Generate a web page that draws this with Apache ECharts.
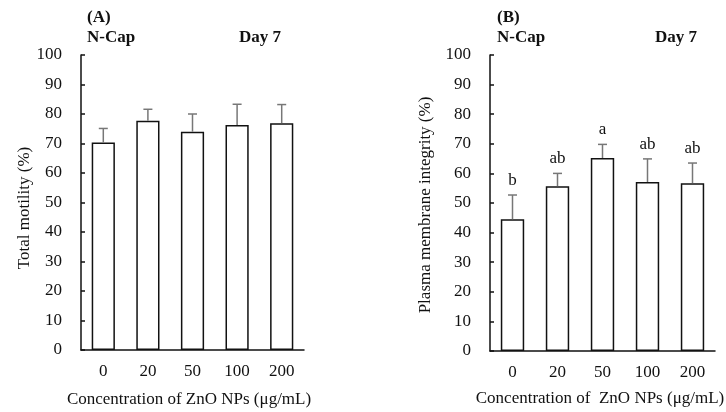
<!DOCTYPE html>
<html><head><meta charset="utf-8">
<script src="https://cdn.jsdelivr.net/npm/echarts@6/dist/echarts.min.js"></script>
<style>html,body{margin:0;padding:0;background:#fff}#c{width:726px;height:412px}</style>
</head><body><div id="c"></div>
<script>
var categories = ['0', '20', '50', '100', '200'];
var motilityMean = [70.3, 77.7, 74.0, 76.3, 76.9];
var motilitySD = [4.8, 3.9, 6.0, 7.0, 6.3];
var integrityMean = [44.5, 55.7, 65.2, 57.1, 56.7];
var integritySD = [8.2, 4.3, 4.6, 7.8, 6.8];
var integrityLetters = ['b', 'ab', 'a', 'ab', 'ab'];

var FONT = '"Liberation Serif", "Times New Roman", serif';
var chart = echarts.init(document.getElementById('c'));

function errSeries(idx, means, sds, letters) {
  var data = means.map(function (m, i) { return [i, m, sds[i]]; });
  return {
    type: 'custom', xAxisIndex: idx, yAxisIndex: idx, z: 5,
    data: data,
    renderItem: function (params, api) {
      var x = api.value(0), m = api.value(1), sd = api.value(2);
      var lab = letters ? letters[params.dataIndex] : '';
      var p0 = api.coord([x, m]);
      var p1 = api.coord([x, m + sd]);
      var st = { stroke: '#777', lineWidth: 1.5 };
      var children = [
        { type: 'line', shape: { x1: p0[0], y1: p0[1], x2: p1[0], y2: p1[1] }, style: st },
        { type: 'line', shape: { x1: p1[0] - 4.5, y1: p1[1], x2: p1[0] + 4.5, y2: p1[1] }, style: st }
      ];
      if (lab) {
        children.push({ type: 'text', x: p1[0], y: p1[1] - 6,
          style: { text: lab, font: '17px ' + FONT, fill: '#111', align: 'center', verticalAlign: 'bottom' } });
      }
      return { type: 'group', children: children };
    }
  };
}

function xAx(idx) {
  return {
    type: 'category', gridIndex: idx, data: categories,
    axisLine: { lineStyle: { color: '#111', width: 1.5 } },
    axisTick: { inside: true, length: 4, lineStyle: { color: '#111', width: 1.5 } },
    axisLabel: { fontFamily: FONT, fontSize: 17, color: '#111', margin: 13 },
    splitLine: { show: false }
  };
}
function yAx(idx) {
  return {
    type: 'value', gridIndex: idx, min: 0, max: 100, interval: 10,
    axisLine: { show: true, lineStyle: { color: '#111', width: 1.5 } },
    axisTick: { show: true, inside: true, length: 4, lineStyle: { color: '#111', width: 1.5 } },
    axisLabel: { fontFamily: FONT, fontSize: 17, color: '#111', margin: 19 },
    splitLine: { show: false }
  };
}
function txt(t, x, y, opt) {
  opt = opt || {};
  return { type: 'text', x: x, y: y, rotation: opt.rot || 0,
    style: { text: t, font: (opt.bold ? 'bold ' : '') + '17px ' + FONT, fill: '#111',
      align: opt.align || 'left', verticalAlign: 'middle' } };
}

chart.setOption({
  animation: false,
  grid: [
    { left: 81, right: 422, top: 55, bottom: 62 },
    { left: 490, right: 11, top: 55, bottom: 61 }
  ],
  xAxis: [xAx(0), xAx(1)],
  yAxis: [yAx(0), yAx(1)],
  series: [
    { type: 'bar', xAxisIndex: 0, yAxisIndex: 0, data: motilityMean, barWidth: '52%',
      itemStyle: { color: '#fff', borderColor: '#111', borderWidth: 1.5 } },
    { type: 'bar', xAxisIndex: 1, yAxisIndex: 1, data: integrityMean, barWidth: '52%',
      itemStyle: { color: '#fff', borderColor: '#111', borderWidth: 1.5 } },
    errSeries(0, motilityMean, motilitySD, null),
    errSeries(1, integrityMean, integritySD, integrityLetters)
  ],
  graphic: [
    txt('(A)', 87, 18, { bold: true }),
    txt('N-Cap', 87, 38, { bold: true }),
    txt('Day 7', 239, 38, { bold: true }),
    txt('(B)', 497, 18, { bold: true }),
    txt('N-Cap', 497, 38, { bold: true }),
    txt('Day 7', 655, 38, { bold: true }),
    txt('Total motility (%)', 25, 208, { rot: Math.PI / 2, align: 'center' }),
    txt('Plasma membrane integrity (%)', 426, 205, { rot: Math.PI / 2, align: 'center' }),
    txt('Concentration of ZnO NPs (\u03bcg/mL)', 189, 400, { align: 'center' }),
    txt('Concentration of  ZnO NPs (\u03bcg/mL)', 600, 399, { align: 'center' })
  ]
});
</script></body></html>
